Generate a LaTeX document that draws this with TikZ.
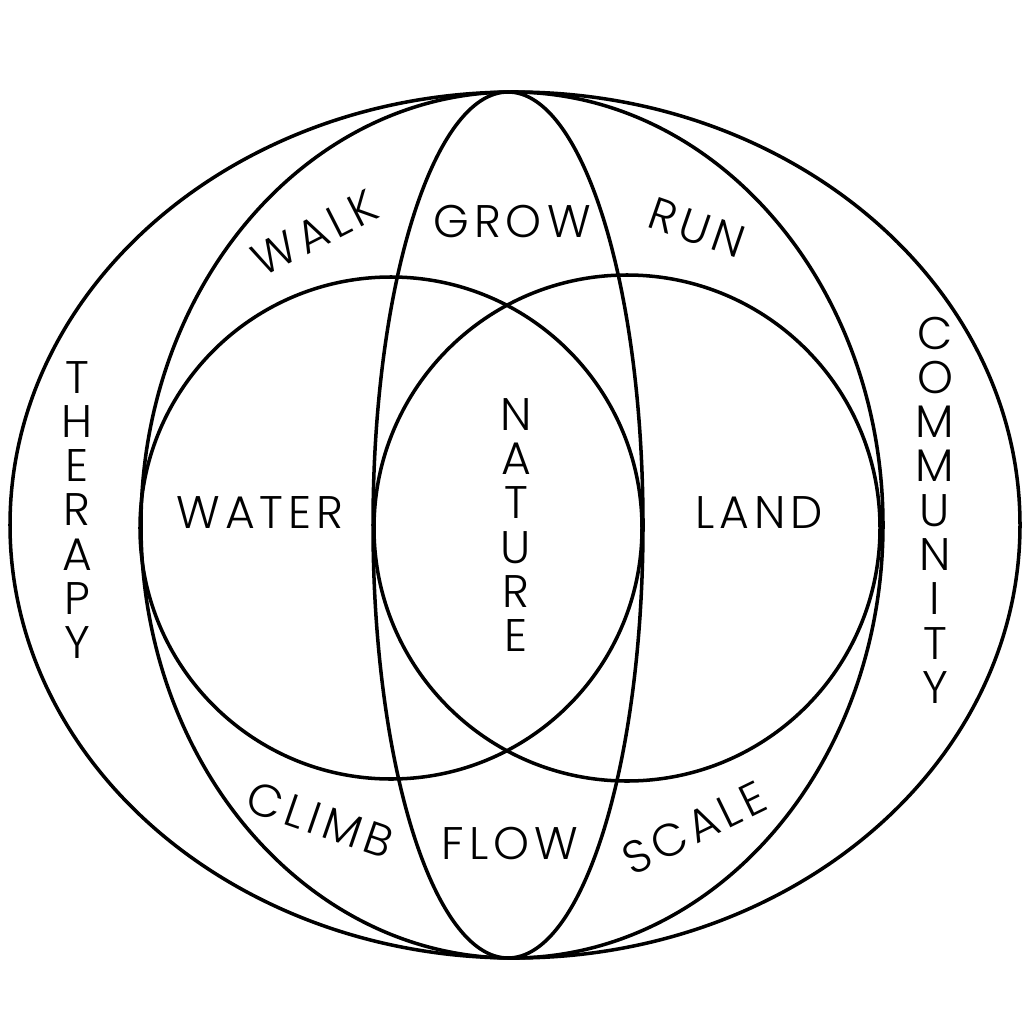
\documentclass[tikz,border=0pt]{standalone}
\usepackage{fontspec}
\setmainfont{Poppins}[UprightFont=* Light, BoldFont=* Light]
\newfontfamily\widefont{Poppins Light}[LetterSpace=11]
\usepackage{tikz}

\begin{document}
\begin{tikzpicture}[
        x=0.1mm, y=-0.1mm,
        ring/.style={draw, line width=1pt},
        word/.style={font=\widefont\fontsize{13}{13}\selectfont, inner sep=0pt},
        stack/.style={font=\fontsize{13}{12.6}\selectfont, align=center, inner sep=0pt}
    ]
        \useasboundingbox (0,0) rectangle (1024,1024);

        \draw[ring] (515,525) ellipse [x radius=505, y radius=433];
        \draw[ring] (512,525) ellipse [x radius=371, y radius=433];
        \draw[ring] (508,525) ellipse [x radius=135, y radius=433];
        \draw[ring] (391,528) circle [radius=251];
        \draw[ring] (627,528) circle [radius=253];

        \node[word] (grow) at (512,222) {GROW};
        \node[word, rotate=27] (walk) at (315,233) {WALK};
        \node[word, rotate=-19] (run) at (697,228) {RUN};
        \node[word] (water) at (260,513) {WATER};
        \node[word] (land) at (759,513) {LAND};
        \node[word, rotate=-19] (climb) at (320,820) {CLIMB};
        \node[word] (flow) at (510,843) {FLOW};
        \node[word, rotate=26] (scale) at (694,828) {SCALE};

        \node[stack] (therapy) at (77,510) {T\\H\\E\\R\\A\\P\\Y};
        \node[stack] (community) at (935,510) {C\\O\\M\\M\\U\\N\\I\\T\\Y};
        \node[stack] (nature) at (516,525) {N\\A\\T\\U\\R\\E};
    \end{tikzpicture}
\end{document}
